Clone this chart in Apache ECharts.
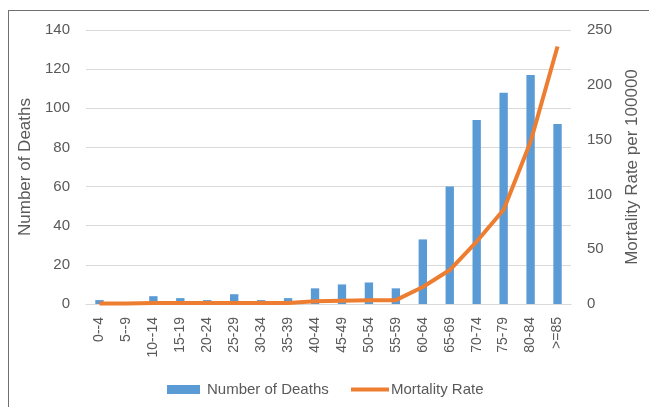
<!DOCTYPE html>
<html><head><meta charset="utf-8">
<script src="https://cdn.jsdelivr.net/npm/echarts@6/dist/echarts.min.js"></script>
<style>html,body{margin:0;padding:0;background:#fff}#w{position:relative;width:649px;height:407px;overflow:hidden}#c{position:absolute;left:0;top:0;width:649px;height:407px}#b{position:absolute;left:8px;top:10px;width:700px;height:500px;border-left:1.5px solid #707070;border-top:1.5px solid #707070;pointer-events:none}</style>
</head><body><div id="w"><div id="c"></div><div id="b"></div></div>
<script>
const categories = ['0--4','5--9','10--14','15-19','20-24','25-29','30-34','35-39','40-44','45-49','50-54','55-59','60-64','65-69','70-74','75-79','80-84','>=85'];
const deaths = [2,0,4,3,2,5,2,3,8,10,11,8,33,60,94,108,117,92];
const mortality = [0.5,0.5,0.8,0.8,0.8,1,1,1,2.5,3,3.5,3.5,15.5,31,57,86,148,235];
const leftTicks = {min:0,max:140,interval:20};
const rightTicks = {min:0,max:250,interval:50};

const chart = echarts.init(document.getElementById('c'));
const txt = '#595959', font = 'Liberation Sans';
chart.setOption({
  animation:false,
  textStyle:{fontFamily:font},
  grid:{left:86,right:72,top:30,bottom:103},
  legend:[
    {left:162,top:377,itemWidth:33,itemHeight:9,itemGap:0,
     textStyle:{color:txt,fontSize:15,fontFamily:font,padding:[0,0,0,2]},
     data:[{name:'Number of Deaths',icon:'rect'}]},
    {left:346,top:377,itemWidth:38,itemHeight:4,itemGap:0,
     textStyle:{color:txt,fontSize:15,fontFamily:font,padding:[0,0,0,-3]},
     data:[{name:'Mortality Rate',icon:'rect'}]}
  ],
  xAxis:{type:'category',data:categories,
    axisLine:{lineStyle:{color:'#d9d9d9'}},axisTick:{show:false},
    axisLabel:{rotate:90,color:txt,fontSize:14,margin:13,interval:0}},
  yAxis:[
    {type:'value',min:leftTicks.min,max:leftTicks.max,interval:leftTicks.interval,
     name:'Number of Deaths',nameLocation:'middle',nameGap:46,nameRotate:90,
     nameTextStyle:{color:txt,fontSize:17},
     axisLabel:{color:txt,fontSize:15,margin:16},
     splitLine:{lineStyle:{color:'#d9d9d9'}},axisLine:{show:false},axisTick:{show:false}},
    {type:'value',min:rightTicks.min,max:rightTicks.max,interval:rightTicks.interval,
     name:'Mortality Rate per 100000',nameLocation:'middle',nameGap:53,nameRotate:90,
     nameTextStyle:{color:txt,fontSize:17},
     axisLabel:{color:txt,fontSize:15,margin:16},
     splitLine:{show:false},axisLine:{show:false},axisTick:{show:false}}
  ],
  series:[
    {name:'Number of Deaths',type:'bar',data:deaths,barWidth:'31%',itemStyle:{color:'#5B9BD5'}},
    {name:'Mortality Rate',type:'line',yAxisIndex:1,data:mortality,symbol:'none',
     lineStyle:{color:'#ED7D31',width:4},itemStyle:{color:'#ED7D31'}}
  ]
});
</script></body></html>
